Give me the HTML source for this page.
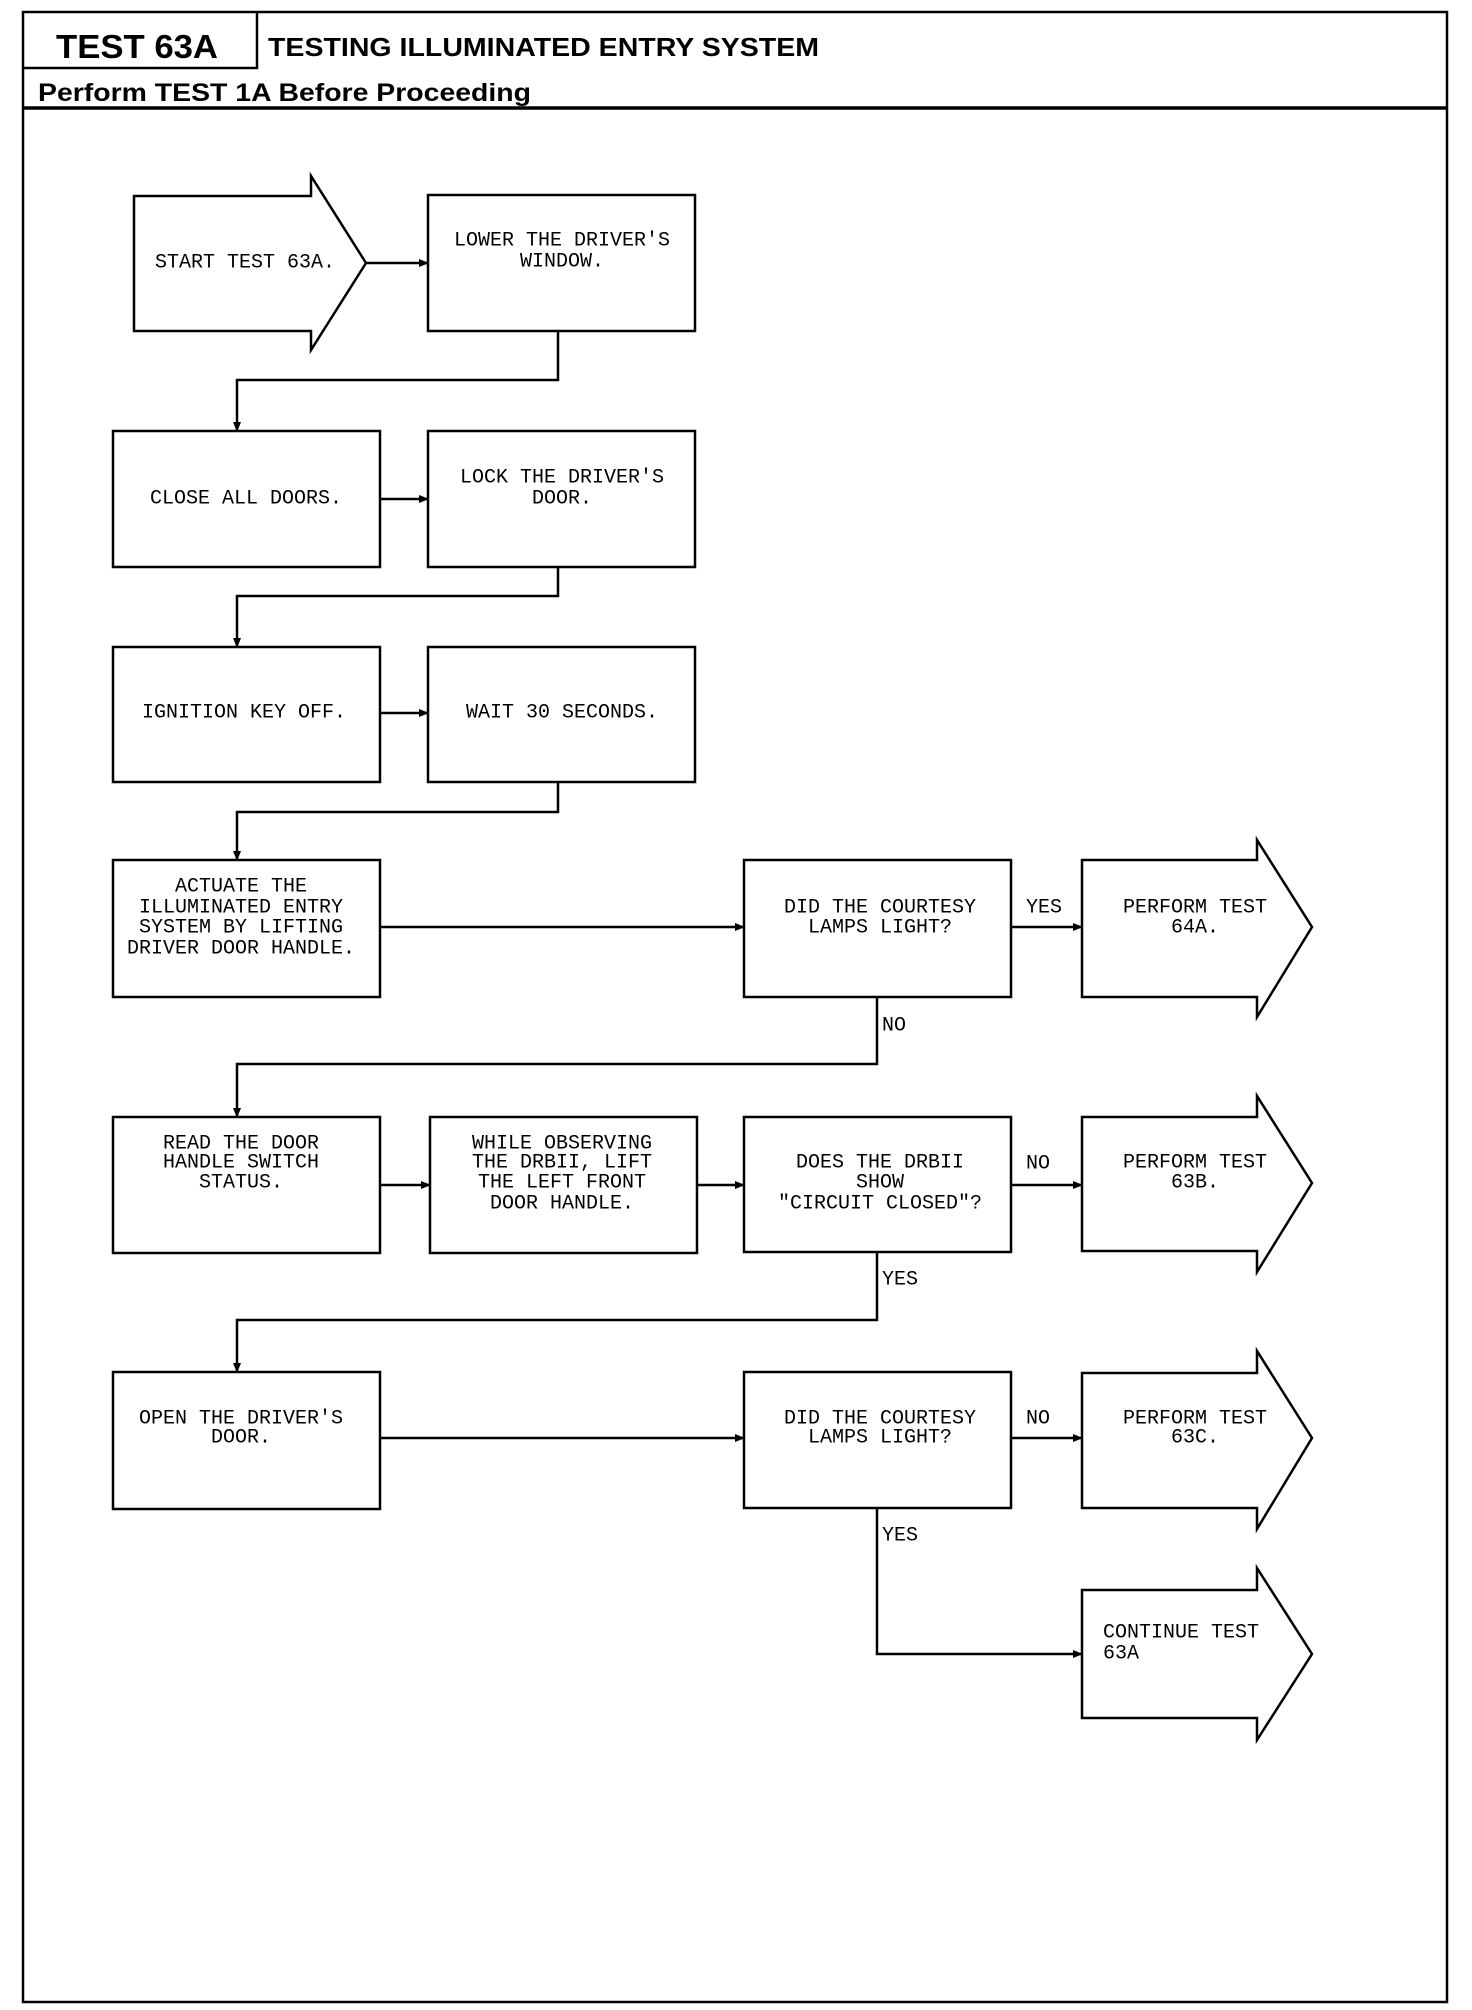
<!DOCTYPE html>
<html><head><meta charset="utf-8"><style>
html,body{margin:0;padding:0;background:#fff;}
svg{display:block;}
.t{font-family:"Liberation Mono",monospace;font-size:20px;fill:#000;}
</style></head><body>
<svg width="1472" height="2010" viewBox="0 0 1472 2010" xmlns="http://www.w3.org/2000/svg">
<defs><marker id="a" markerWidth="10" markerHeight="8" refX="9" refY="4" orient="auto" markerUnits="userSpaceOnUse"><path d="M0,0 L10,4 L0,8 Z" fill="#000"/></marker></defs>
<g fill="none" stroke="#000" stroke-width="2.5">
<rect x="23" y="12" width="1424" height="1990"/>
<polyline points="23,68 257,68 257,12"/>
<line x1="23" y1="108" x2="1447" y2="108" stroke-width="3.5"/>
<!-- start arrow -->
<polygon points="134,196 311,196 311,176 366,263 311,350 311,331 134,331"/>
<rect x="428" y="195" width="267" height="136"/>
<rect x="113" y="431" width="267" height="136"/>
<rect x="428" y="431" width="267" height="136"/>
<rect x="113" y="647" width="267" height="135"/>
<rect x="428" y="647" width="267" height="135"/>
<rect x="113" y="860" width="267" height="137"/>
<rect x="744" y="860" width="267" height="137"/>
<polygon points="1082,860 1257,860 1257,840 1312,927 1257,1017 1257,997 1082,997"/>
<rect x="113" y="1117" width="267" height="136"/>
<rect x="430" y="1117" width="267" height="136"/>
<rect x="744" y="1117" width="267" height="135"/>
<polygon points="1082,1117 1257,1117 1257,1096 1312,1183 1257,1272 1257,1251 1082,1251"/>
<rect x="113" y="1372" width="267" height="137"/>
<rect x="744" y="1372" width="267" height="136"/>
<polygon points="1082,1373 1257,1373 1257,1351 1312,1438 1257,1529 1257,1508 1082,1508"/>
<polygon points="1082,1590 1257,1590 1257,1568 1312,1654 1257,1740 1257,1718 1082,1718"/>
</g>
<g fill="none" stroke="#000" stroke-width="2.5" marker-end="url(#a)">
<line x1="366" y1="263" x2="428" y2="263"/>
<polyline points="558,331 558,380 237,380 237,431"/>
<line x1="380" y1="499" x2="428" y2="499"/>
<polyline points="558,567 558,596 237,596 237,647"/>
<line x1="380" y1="713" x2="428" y2="713"/>
<polyline points="558,782 558,812 237,812 237,860"/>
<line x1="380" y1="927" x2="744" y2="927"/>
<line x1="1011" y1="927" x2="1082" y2="927"/>
<polyline points="877,997 877,1064 237,1064 237,1117"/>
<line x1="380" y1="1185" x2="430" y2="1185"/>
<line x1="697" y1="1185" x2="744" y2="1185"/>
<line x1="1011" y1="1185" x2="1082" y2="1185"/>
<polyline points="877,1252 877,1320 237,1320 237,1372"/>
<line x1="380" y1="1438" x2="744" y2="1438"/>
<line x1="1011" y1="1438" x2="1082" y2="1438"/>
<polyline points="877,1508 877,1654 1082,1654"/>
</g>
<g font-family="Liberation Sans, sans-serif" font-weight="bold" fill="#000">
<text x="56" y="58" font-size="33" textLength="162" lengthAdjust="spacingAndGlyphs">TEST 63A</text>
<text x="268" y="56" font-size="26" textLength="551" lengthAdjust="spacingAndGlyphs">TESTING ILLUMINATED ENTRY SYSTEM</text>
<text x="38" y="101" font-size="25" textLength="493" lengthAdjust="spacingAndGlyphs">Perform TEST 1A Before Proceeding</text>
</g>
<g class="t" text-anchor="middle" dominant-baseline="central">
<text x="245" y="263">START TEST 63A.</text>
<text x="562" y="241">LOWER THE DRIVER'S</text><text x="562" y="262">WINDOW.</text>
<text x="246" y="499">CLOSE ALL DOORS.</text>
<text x="562" y="478">LOCK THE DRIVER'S</text><text x="562" y="499">DOOR.</text>
<text x="244" y="713">IGNITION KEY OFF.</text>
<text x="562" y="713">WAIT 30 SECONDS.</text>
<text x="241" y="887">ACTUATE THE</text><text x="241" y="908">ILLUMINATED ENTRY</text><text x="241" y="928">SYSTEM BY LIFTING</text><text x="241" y="949">DRIVER DOOR HANDLE.</text>
<text x="880" y="908">DID THE COURTESY</text><text x="880" y="928">LAMPS LIGHT?</text>
<text x="1195" y="908">PERFORM TEST</text><text x="1195" y="928">64A.</text>
<text x="241" y="1144">READ THE DOOR</text><text x="241" y="1163">HANDLE SWITCH</text><text x="241" y="1183">STATUS.</text>
<text x="562" y="1144">WHILE OBSERVING</text><text x="562" y="1163">THE DRBII, LIFT</text><text x="562" y="1183">THE LEFT FRONT</text><text x="562" y="1204">DOOR HANDLE.</text>
<text x="880" y="1163">DOES THE DRBII</text><text x="880" y="1183">SHOW</text><text x="880" y="1204">"CIRCUIT CLOSED"?</text>
<text x="1195" y="1163">PERFORM TEST</text><text x="1195" y="1183">63B.</text>
<text x="241" y="1419">OPEN THE DRIVER'S</text><text x="241" y="1438">DOOR.</text>
<text x="880" y="1419">DID THE COURTESY</text><text x="880" y="1438">LAMPS LIGHT?</text>
<text x="1195" y="1419">PERFORM TEST</text><text x="1195" y="1438">63C.</text>
</g>
<g class="t" dominant-baseline="central">
<text x="1103" y="1633">CONTINUE TEST</text><text x="1103" y="1654">63A</text>
<text x="1026" y="908">YES</text>
<text x="882" y="1026">NO</text>
<text x="1026" y="1164">NO</text>
<text x="882" y="1280">YES</text>
<text x="1026" y="1419">NO</text>
<text x="882" y="1536">YES</text>
</g>
</svg>
</body></html>
